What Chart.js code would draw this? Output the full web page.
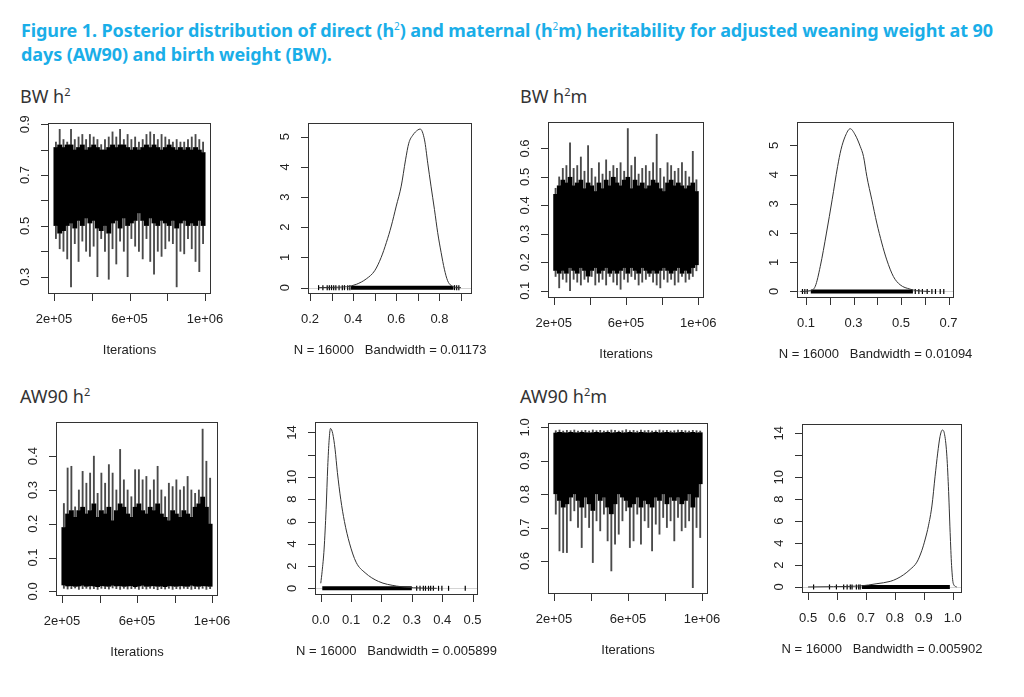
<!DOCTYPE html>
<html>
<head>
<meta charset="utf-8">
<script src="https://cdn.jsdelivr.net/npm/chart.js@4.4.1/dist/chart.umd.min.js"></script>
<style>
  body { margin: 0; background: #fff; width: 1024px; height: 697px; position: relative; overflow: hidden; }
  .title { position: absolute; left: 21px; top: 15px; color: #1aaee8; font: 700 18px 'Noto Sans', sans-serif;
           line-height: 23.5px; white-space: nowrap; letter-spacing: -0.1px; }
  .title sup { font-size: 10px; font-weight: 400; }
  .plabel { position: absolute; font: 400 18px 'Noto Sans', sans-serif; line-height: 18px; color: #333; white-space: nowrap; }
  .plabel sup { font-size: 11px; }
  canvas { position: absolute; }
</style>
</head>
<body>
<div class="title">Figure 1. Posterior distribution of direct (h<sup>2</sup>) and maternal (h<sup>2</sup>m) heritability for adjusted weaning weight at 90<br>days (AW90) and birth weight (BW).</div>
<div class="plabel" style="left:20px; top:83px">BW h<sup>2</sup></div>
<div class="plabel" style="left:520px; top:83px">BW h<sup>2</sup>m</div>
<div class="plabel" style="left:20px; top:383px">AW90 h<sup>2</sup></div>
<div class="plabel" style="left:520px; top:383px">AW90 h<sup>2</sup>m</div>
<canvas id="c1"></canvas><canvas id="c2"></canvas><canvas id="c3"></canvas><canvas id="c4"></canvas>
<canvas id="c5"></canvas><canvas id="c6"></canvas><canvas id="c7"></canvas><canvas id="c8"></canvas>
<script>
// ---- trace plots: iteration bins (centres) and per-bin envelopes ----
const iterBins = [210000, 230000, 250000, 270000, 290000, 310000, 330000, 350000, 370000, 390000,
                  410000, 430000, 450000, 470000, 490000, 510000, 530000, 550000, 570000, 590000,
                  610000, 630000, 650000, 670000, 690000, 710000, 730000, 750000, 770000, 790000,
                  810000, 830000, 850000, 870000, 890000, 910000, 930000, 950000, 970000, 990000];
const iterTicks = [200000, 400000, 600000, 800000, 1000000];
const iterLabels = ['2e+05', '', '6e+05', '', '1e+06'];

// BW h2
const bwH2Hi     = [0.83,0.88,0.84,0.83,0.88,0.84,0.85,0.86,0.84,0.86,0.85,0.84,0.82,0.84,0.85,0.87,0.85,0.88,0.84,0.86,
                    0.84,0.85,0.83,0.84,0.86,0.87,0.86,0.84,0.86,0.85,0.84,0.83,0.84,0.83,0.83,0.84,0.85,0.86,0.84,0.83];
const bwH2CoreHi = [0.81,0.82,0.81,0.82,0.82,0.80,0.81,0.82,0.80,0.81,0.82,0.81,0.80,0.80,0.81,0.82,0.81,0.82,0.82,0.81,
                    0.80,0.81,0.80,0.81,0.82,0.81,0.82,0.81,0.80,0.81,0.82,0.81,0.80,0.81,0.80,0.81,0.80,0.81,0.80,0.79];
const bwH2CoreLo = [0.50,0.47,0.48,0.50,0.51,0.49,0.52,0.50,0.53,0.51,0.52,0.49,0.48,0.50,0.47,0.51,0.52,0.49,0.53,0.50,
                    0.51,0.52,0.55,0.52,0.50,0.53,0.51,0.50,0.52,0.51,0.50,0.52,0.49,0.51,0.52,0.50,0.51,0.50,0.52,0.50];
const bwH2Lo     = [0.45,0.41,0.40,0.37,0.26,0.43,0.36,0.44,0.40,0.38,0.42,0.30,0.45,0.40,0.29,0.41,0.35,0.44,0.40,0.30,
                    0.45,0.42,0.40,0.37,0.45,0.36,0.31,0.40,0.38,0.41,0.44,0.43,0.26,0.40,0.39,0.45,0.41,0.36,0.32,0.43];

// BW h2m
const bwH2mHi     = [0.46,0.50,0.53,0.54,0.62,0.53,0.54,0.57,0.52,0.61,0.53,0.50,0.55,0.51,0.56,0.52,0.54,0.53,0.55,0.52,
                     0.67,0.54,0.57,0.51,0.53,0.54,0.52,0.55,0.65,0.53,0.50,0.55,0.54,0.52,0.53,0.55,0.52,0.50,0.59,0.49];
const bwH2mCoreHi = [0.44,0.47,0.49,0.48,0.50,0.47,0.48,0.49,0.46,0.48,0.47,0.45,0.48,0.46,0.49,0.47,0.50,0.48,0.47,0.49,
                     0.50,0.46,0.49,0.47,0.48,0.46,0.47,0.49,0.48,0.46,0.45,0.48,0.49,0.47,0.48,0.47,0.46,0.47,0.48,0.45];
const bwH2mCoreLo = [0.17,0.16,0.17,0.16,0.18,0.17,0.16,0.18,0.17,0.15,0.17,0.18,0.16,0.17,0.18,0.16,0.17,0.16,0.17,0.18,
                     0.16,0.18,0.17,0.16,0.18,0.17,0.16,0.17,0.16,0.17,0.18,0.17,0.16,0.17,0.18,0.16,0.17,0.16,0.18,0.19];
const bwH2mLo     = [0.15,0.11,0.14,0.13,0.10,0.14,0.13,0.12,0.14,0.13,0.15,0.12,0.13,0.14,0.12,0.15,0.13,0.12,0.105,0.14,
                     0.13,0.15,0.14,0.12,0.13,0.14,0.15,0.13,0.12,0.11,0.14,0.13,0.14,0.12,0.13,0.15,0.13,0.14,0.15,0.17];

// AW90 h2
const aw90H2Hi     = [0.26,0.365,0.37,0.25,0.30,0.355,0.32,0.35,0.40,0.29,0.35,0.32,0.375,0.35,0.30,0.42,0.33,0.30,0.28,0.36,
                      0.36,0.33,0.34,0.30,0.33,0.37,0.30,0.28,0.32,0.31,0.33,0.30,0.31,0.34,0.30,0.29,0.30,0.48,0.385,0.335];
const aw90H2CoreHi = [0.19,0.23,0.24,0.22,0.24,0.25,0.23,0.24,0.26,0.22,0.24,0.23,0.25,0.21,0.24,0.26,0.25,0.23,0.22,0.25,
                      0.26,0.24,0.23,0.25,0.24,0.26,0.23,0.22,0.21,0.24,0.23,0.22,0.24,0.23,0.22,0.25,0.26,0.28,0.25,0.20];
const aw90H2CoreLo = [0.018,0.015,0.016,0.014,0.015,0.017,0.014,0.016,0.015,0.013,0.016,0.015,0.014,0.017,0.015,0.016,0.014,0.015,0.016,0.013,
                      0.015,0.017,0.014,0.015,0.016,0.014,0.015,0.013,0.016,0.015,0.014,0.016,0.015,0.014,0.017,0.015,0.014,0.016,0.015,0.014];
const aw90H2Lo     = [0.009,0.007,0.008,0.010,0.006,0.008,0.009,0.007,0.008,0.006,0.009,0.008,0.007,0.010,0.008,0.006,0.009,0.007,0.008,0.009,
                      0.006,0.008,0.007,0.009,0.008,0.005,0.008,0.007,0.009,0.006,0.008,0.007,0.009,0.008,0.006,0.008,0.007,0.009,0.006,0.008];

// AW90 h2m
const aw90H2mHi     = [0.990,0.992,0.989,0.991,0.990,0.992,0.989,0.990,0.991,0.989,0.992,0.990,0.991,0.989,0.990,0.992,0.991,0.989,0.990,0.993,
                       0.990,0.991,0.989,0.992,0.990,0.991,0.989,0.990,0.992,0.990,0.991,0.989,0.990,0.992,0.991,0.990,0.989,0.991,0.990,0.989];
const aw90H2mCoreHi = [0.984,0.986,0.985,0.984,0.986,0.985,0.984,0.986,0.985,0.984,0.985,0.986,0.984,0.985,0.986,0.984,0.985,0.986,0.984,0.985,
                       0.986,0.985,0.984,0.986,0.985,0.984,0.985,0.986,0.984,0.985,0.986,0.985,0.984,0.985,0.986,0.984,0.985,0.986,0.984,0.985];
const aw90H2mCoreLo = [0.80,0.78,0.76,0.77,0.79,0.80,0.78,0.76,0.79,0.77,0.75,0.80,0.78,0.79,0.76,0.74,0.77,0.80,0.79,0.78,
                       0.76,0.77,0.79,0.76,0.78,0.77,0.76,0.79,0.78,0.80,0.77,0.79,0.78,0.79,0.77,0.78,0.80,0.76,0.79,0.83];
const aw90H2mLo     = [0.74,0.63,0.625,0.625,0.72,0.75,0.70,0.64,0.73,0.70,0.595,0.72,0.69,0.74,0.66,0.57,0.65,0.68,0.72,0.75,
                       0.64,0.66,0.74,0.65,0.72,0.70,0.63,0.71,0.68,0.73,0.70,0.72,0.66,0.73,0.69,0.70,0.72,0.52,0.70,0.67];

// ---- density plots ----
const bwH2DensX = [0.24,0.30,0.37,0.415,0.461,0.50,0.53,0.554,0.577,0.60,0.623,0.643,0.658,0.677,0.70,0.711,0.731,0.746,0.761,0.777,0.792,0.808,0.823,0.838,0.854,0.877,0.90];
const bwH2DensY = [0.0,0.01,0.03,0.11,0.29,0.56,1.0,1.49,2.04,2.7,3.36,4.23,4.78,5.05,5.22,5.25,4.89,4.12,3.36,2.59,1.82,1.16,0.61,0.23,0.07,0.01,0.0];
const bwH2RugDense = [0.39, 0.865];
const bwH2RugSparse = [0.24,0.26,0.28,0.29,0.30,0.31,0.32,0.335,0.35,0.36,0.375,0.385,0.87,0.88,0.89];

const bwH2mDensX = [0.076,0.118,0.139,0.16,0.186,0.21,0.233,0.247,0.265,0.286,0.307,0.328,0.342,0.356,0.377,0.398,0.419,0.44,0.468,0.496,0.538,0.566,0.622];
const bwH2mDensY = [0.0,0.03,0.18,0.86,2.0,3.14,4.28,4.85,5.31,5.57,5.36,4.97,4.62,3.94,3.14,2.34,1.66,1.08,0.51,0.23,0.08,0.03,0.0];
const bwH2mRugDense = [0.12, 0.55];
const bwH2mRugSparse = [0.085,0.095,0.105,0.56,0.575,0.59,0.61,0.63,0.645,0.665,0.68];

const aw90H2DensX = [0.0,0.0044,0.011,0.0176,0.023,0.0275,0.032,0.0394,0.0471,0.0548,0.0658,0.078,0.0946,0.1165,0.146,0.19,0.25,0.306,0.382];
const aw90H2DensY = [0.45,1.5,3.53,7.1,10.95,13.3,14.36,13.9,12.5,10.4,8.0,6.0,4.06,2.34,1.4,0.62,0.2,0.05,0.0];
const aw90H2RugDense = [0.005, 0.30];
const aw90H2RugSparse = [0.316,0.327,0.338,0.345,0.355,0.362,0.371,0.388,0.399,0.421,0.476];

const aw90H2mDensX = [0.50,0.588,0.68,0.738,0.784,0.807,0.83,0.853,0.876,0.893,0.905,0.916,0.928,0.939,0.948,0.956,0.964,0.971,0.979,0.985,0.991,0.996,1.002,1.014];
const aw90H2mDensY = [0.0,0.03,0.09,0.30,0.51,0.75,1.11,1.6,2.26,3.31,4.37,5.57,7.38,10.09,12.2,13.7,14.3,14.0,12.2,9.18,4.97,1.96,0.3,0.0];
const aw90H2mRugDense = [0.686, 0.99];
const aw90H2mRugSparse = [0.519,0.574,0.598,0.623,0.635,0.646,0.652,0.667,0.675,0.68];

// axis ticks (R drops labels that would overlap, hence the blanks)
const bwH2Ticks = [0.3,0.4,0.5,0.6,0.7,0.8,0.9];
const bwH2TickLabels = ['0.3','','0.5','','0.7','','0.9'];
const bwH2mTicks = [0.1,0.2,0.3,0.4,0.5,0.6];
const bwH2mTickLabels = ['0.1','0.2','0.3','0.4','0.5','0.6'];
const aw90H2Ticks = [0.0,0.1,0.2,0.3,0.4];
const aw90H2TickLabels = ['0.0','0.1','0.2','0.3','0.4'];
const aw90H2mTicks = [0.6,0.7,0.8,0.9,1.0];
const aw90H2mTickLabels = ['0.6','0.7','0.8','0.9','1.0'];

const dens5Ticks = [0,1,2,3,4,5];
const dens5Labels = ['0','1','2','3','4','5'];
const dens14Ticks = [0,2,4,6,8,10,12,14];
const dens14Labels = ['0','2','4','6','8','10','','14'];
const bwH2XTicks = [0.2,0.3,0.4,0.5,0.6,0.7,0.8,0.9];
const bwH2XLabels = ['0.2','','0.4','','0.6','','0.8',''];
const bwH2mXTicks = [0.1,0.2,0.3,0.4,0.5,0.6,0.7];
const bwH2mXLabels = ['0.1','','0.3','','0.5','','0.7'];
const aw90H2XTicks = [0.0,0.1,0.2,0.3,0.4,0.5];
const aw90H2XLabels = ['0.0','0.1','0.2','0.3','0.4','0.5'];
const aw90H2mXTicks = [0.5,0.6,0.7,0.8,0.9,1.0];
const aw90H2mXLabels = ['0.5','0.6','0.7','0.8','0.9','1.0'];

// ---- R-like box, outward ticks and rotated y labels ----
const AXIS_FONT = '13px "Liberation Sans", Arial, sans-serif';
const rAxes = {
    id: 'rAxes',
    beforeDatasetsDraw(chart, args, o) {
        if (!o.zeroLine) return;
        const { ctx, chartArea: a } = chart;
        const py = Math.round(chart.scales.y.getPixelForValue(0)) + 0.5;
        ctx.save();
        ctx.strokeStyle = '#d4d4d4';
        ctx.lineWidth = 1;
        ctx.beginPath();
        ctx.moveTo(a.left, py);
        ctx.lineTo(a.right, py);
        ctx.stroke();
        ctx.restore();
    },
    afterDraw(chart, args, o) {
        const { ctx, chartArea: a } = chart;
        const xs = chart.scales.x, ys = chart.scales.y;
        ctx.save();
        ctx.strokeStyle = '#333';
        ctx.lineWidth = 1;
        ctx.strokeRect(a.left + 0.5, a.top + 0.5, a.right - a.left - 1, a.bottom - a.top - 1);
        ctx.beginPath();
        o.xTicks.forEach(v => {
            const px = Math.round(xs.getPixelForValue(v)) + 0.5;
            ctx.moveTo(px, a.bottom);
            ctx.lineTo(px, a.bottom + 7);
        });
        o.yTicks.forEach(v => {
            const py = Math.round(ys.getPixelForValue(v)) + 0.5;
            ctx.moveTo(a.left, py);
            ctx.lineTo(a.left - 7, py);
        });
        ctx.stroke();

        ctx.fillStyle = '#222';
        ctx.font = AXIS_FONT;
        ctx.textAlign = 'center';
        ctx.textBaseline = 'alphabetic';
        o.xTicks.forEach((v, i) => {
            if (o.xLabels[i]) ctx.fillText(o.xLabels[i], xs.getPixelForValue(v), a.bottom + 29);
        });
        o.yTicks.forEach((v, i) => {
            if (!o.yLabels[i]) return;
            ctx.save();
            ctx.translate(a.left - 19, ys.getPixelForValue(v));
            ctx.rotate(-Math.PI / 2);
            ctx.fillText(o.yLabels[i], 0, 0);
            ctx.restore();
        });
        ctx.fillText(o.title, (a.left + a.right) / 2, a.bottom + 60);
        ctx.restore();
    }
};

const PAD = { left: 45, top: 8, right: 32, bottom: 72 };

function placeCanvas(id, box) {
    const c = document.getElementById(id);
    c.width = box[2] - box[0] + PAD.left + PAD.right;
    c.height = box[3] - box[1] + PAD.top + PAD.bottom;
    c.style.left = (box[0] - PAD.left) + 'px';
    c.style.top = (box[1] - PAD.top) + 'px';
    return c;
}

function baseOptions(xMin, xMax, yMin, yMax, axes) {
    return {
        responsive: false,
        animation: false,
        events: [],
        layout: { padding: PAD },
        scales: {
            x: { type: 'linear', min: xMin, max: xMax, offset: false, display: false },
            y: { type: 'linear', min: yMin, max: yMax, display: false }
        },
        plugins: { legend: { display: false }, tooltip: { enabled: false }, rAxes: axes }
    };
}

function traceChart(id, box, hi, coreHi, coreLo, lo, yMin, yMax, yTicks, yLabels) {
    const spike = (label, pick) => ({
        label: label,
        data: iterBins.map((x, i) => ({ x: x, y: pick(i) })),
        backgroundColor: '#4a4a4a',
        grouped: false,
        barThickness: 1.2
    });
    new Chart(placeCanvas(id, box), {
        type: 'bar',
        data: {
            datasets: [{
                label: 'core',
                data: iterBins.map((x, i) => ({ x: x, y: [coreLo[i], coreHi[i]] })),
                backgroundColor: '#000',
                grouped: false,
                barPercentage: 1.3,
                categoryPercentage: 1
            },
            spike('upper excursions', i => [coreHi[i], hi[i]]),
            spike('lower excursions', i => [lo[i], coreLo[i]])]
        },
        options: baseOptions(168000, 1032000, yMin, yMax, {
            xTicks: iterTicks, xLabels: iterLabels, yTicks: yTicks, yLabels: yLabels, title: 'Iterations'
        }),
        plugins: [rAxes]
    });
}

function densityChart(id, box, xs, ys, rugDense, rugSparse, xMin, xMax, yMin, yMax, xTicks, xLabels, yTicks, yLabels, title) {
    new Chart(placeCanvas(id, box), {
        type: 'line',
        data: {
            datasets: [{
                label: 'density',
                data: xs.map((x, i) => ({ x: x, y: ys[i] })),
                borderColor: '#333',
                borderWidth: 1,
                pointRadius: 0,
                cubicInterpolationMode: 'monotone'
            }, {
                label: 'rug',
                data: rugDense.map(x => ({ x: x, y: 0 })),
                borderColor: '#000',
                borderWidth: 4,
                pointRadius: 0
            }, {
                type: 'scatter',
                label: 'rug ticks',
                data: rugSparse.map(x => ({ x: x, y: 0 })),
                pointStyle: 'line',
                rotation: 90,
                radius: 2.5,
                borderWidth: 1.2,
                borderColor: '#000'
            }]
        },
        options: baseOptions(xMin, xMax, yMin, yMax, {
            xTicks: xTicks, xLabels: xLabels, yTicks: yTicks, yLabels: yLabels, title: title, zeroLine: true
        }),
        plugins: [rAxes]
    });
}

traceChart('c1', [48, 123, 211, 294], bwH2Hi, bwH2CoreHi, bwH2CoreLo, bwH2Lo, 0.232, 0.905, bwH2Ticks, bwH2TickLabels);
densityChart('c2', [308, 123, 472, 294], bwH2DensX, bwH2DensY, bwH2RugDense, bwH2RugSparse,
    0.191, 0.951, -0.21, 5.45, bwH2XTicks, bwH2XLabels, dens5Ticks, dens5Labels, 'N = 16000   Bandwidth = 0.01173');
traceChart('c3', [548, 122, 704, 298], bwH2mHi, bwH2mCoreHi, bwH2mCoreLo, bwH2mLo, 0.0744, 0.693, bwH2mTicks, bwH2mTickLabels);
densityChart('c4', [797, 122, 954, 298], bwH2mDensX, bwH2mDensY, bwH2mRugDense, bwH2mRugSparse,
    0.062, 0.723, -0.223, 5.8, bwH2mXTicks, bwH2mXLabels, dens5Ticks, dens5Labels, 'N = 16000   Bandwidth = 0.01094');
traceChart('c5', [56, 422, 218, 596], aw90H2Hi, aw90H2CoreHi, aw90H2CoreLo, aw90H2Lo, -0.0136, 0.501, aw90H2Ticks, aw90H2TickLabels);
densityChart('c6', [315, 422, 478, 595], aw90H2DensX, aw90H2DensY, aw90H2RugDense, aw90H2RugSparse,
    -0.019, 0.518, -0.6, 14.94, aw90H2XTicks, aw90H2XLabels, dens14Ticks, dens14Labels, 'N = 16000   Bandwidth = 0.005899');
traceChart('c7', [548, 423, 708, 594], aw90H2mHi, aw90H2mCoreHi, aw90H2mCoreLo, aw90H2mLo, 0.501, 1.013, aw90H2mTicks, aw90H2mTickLabels);
densityChart('c8', [802, 424, 962, 593], aw90H2mDensX, aw90H2mDensY, aw90H2mRugDense, aw90H2mRugSparse,
    0.479, 1.032, -0.55, 14.85, aw90H2mXTicks, aw90H2mXLabels, dens14Ticks, dens14Labels, 'N = 16000   Bandwidth = 0.005902');
</script>
</body>
</html>
